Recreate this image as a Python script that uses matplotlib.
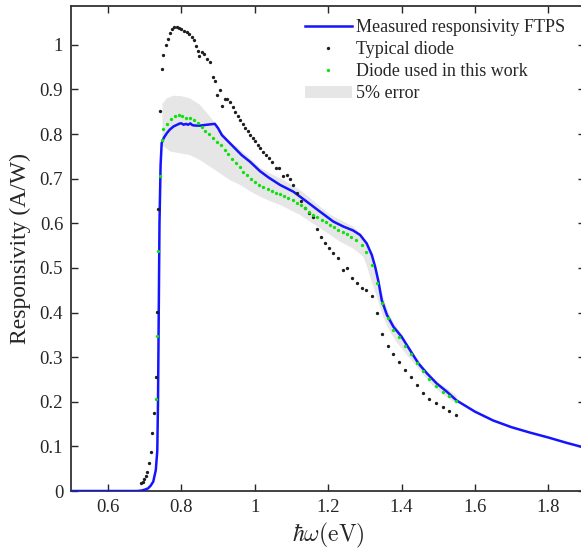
import numpy as np
import matplotlib
matplotlib.use('Agg')
import matplotlib.pyplot as plt

plt.rcParams['font.family'] = ['Liberation Serif', 'DejaVu Serif']
plt.rcParams['mathtext.fontset'] = 'cm'
plt.rcParams['font.size'] = 13.5

# measured responsivity (FTPS), eV / A/W
ftps_e = [0.50, 0.60, 0.68, 0.691, 0.700, 0.709, 0.716, 0.723, 0.730, 0.734,
          0.736, 0.738, 0.740, 0.743, 0.746, 0.752, 0.760, 0.768, 0.778, 0.788,
          0.796, 0.800, 0.806, 0.812, 0.818, 0.824, 0.830, 0.840, 0.850, 0.860,
          0.869, 0.880, 0.891, 0.900, 0.910, 0.928, 0.946, 0.964, 0.987, 1.014,
          1.037, 1.069, 1.105, 1.141, 1.178, 1.214, 1.241, 1.268, 1.287, 1.305,
          1.319, 1.328, 1.337, 1.346, 1.360, 1.378, 1.400, 1.423, 1.446, 1.469,
          1.496, 1.523, 1.550, 1.60, 1.65, 1.70, 1.75, 1.80, 1.85, 1.90]
ftps_r = [0, 0, 0, 0.001, 0.003, 0.006, 0.012, 0.021, 0.047, 0.09,
          0.2, 0.4, 0.6, 0.73, 0.78, 0.792, 0.802, 0.810, 0.817, 0.821,
          0.824, 0.824, 0.821, 0.823, 0.821, 0.824, 0.820, 0.819, 0.819, 0.820,
          0.821, 0.822, 0.823, 0.813, 0.798, 0.783, 0.768, 0.753, 0.738, 0.717,
          0.703, 0.686, 0.671, 0.649, 0.626, 0.604, 0.593, 0.584, 0.574, 0.555,
          0.529, 0.503, 0.470, 0.428, 0.395, 0.368, 0.346, 0.316, 0.286, 0.264,
          0.241, 0.223, 0.203, 0.178, 0.158, 0.143, 0.131, 0.120, 0.108, 0.097]

# typical diode
typ_e = [0.690, 0.694, 0.699, 0.703, 0.707, 0.712, 0.716, 0.720, 0.725, 0.730,
         0.732, 0.737, 0.741, 0.746, 0.750, 0.758, 0.762, 0.769, 0.775, 0.780,
         0.787, 0.793, 0.800, 0.808, 0.814, 0.821, 0.828, 0.834, 0.840, 0.846,
         0.849, 0.855, 0.861, 0.869, 0.878, 0.885, 0.891, 0.898, 0.905, 0.911,
         0.919, 0.925, 0.932, 0.940, 0.946, 0.953, 0.960, 0.967, 0.973, 0.981,
         0.987, 0.994, 1.000, 1.008, 1.014, 1.023, 1.030, 1.039, 1.046, 1.058,
         1.067, 1.078, 1.087, 1.096, 1.105, 1.116, 1.125, 1.137, 1.148, 1.158,
         1.170, 1.180, 1.191, 1.203, 1.214, 1.226, 1.240, 1.251, 1.264, 1.278,
         1.291, 1.304, 1.319, 1.332, 1.347, 1.362, 1.378, 1.393, 1.409, 1.425,
         1.441, 1.458, 1.476, 1.494, 1.512, 1.530, 1.549]
typ_r = [0.019, 0.021, 0.026, 0.034, 0.043, 0.062, 0.087, 0.129, 0.174, 0.256,
         0.402, 0.632, 0.852, 0.945, 0.978, 1.000, 1.013, 1.026, 1.036, 1.040,
         1.040, 1.037, 1.035, 1.031, 1.028, 1.024, 1.017, 1.010, 0.998, 0.987,
         0.974, 0.983, 0.980, 0.968, 0.961, 0.929, 0.918, 0.888, 0.898, 0.863,
         0.879, 0.879, 0.871, 0.860, 0.850, 0.841, 0.832, 0.823, 0.813, 0.806,
         0.798, 0.791, 0.785, 0.776, 0.768, 0.761, 0.753, 0.746, 0.738, 0.724,
         0.724, 0.705, 0.708, 0.699, 0.686, 0.669, 0.651, 0.634, 0.623, 0.614,
         0.587, 0.569, 0.555, 0.544, 0.534, 0.522, 0.496, 0.500, 0.477, 0.466,
         0.456, 0.450, 0.437, 0.398, 0.351, 0.325, 0.307, 0.290, 0.271, 0.256,
         0.238, 0.219, 0.206, 0.197, 0.189, 0.180, 0.170]

# diode used in this work
used_e = [0.730, 0.732, 0.737, 0.741, 0.746, 0.750, 0.760, 0.771, 0.781, 0.792,
          0.802, 0.813, 0.823, 0.834, 0.844, 0.855, 0.865, 0.876, 0.886, 0.897,
          0.907, 0.918, 0.928, 0.939, 0.949, 0.960, 0.969, 0.978, 0.990, 1.000,
          1.012, 1.023, 1.035, 1.046, 1.058, 1.069, 1.080, 1.091, 1.103, 1.114,
          1.126, 1.137, 1.148, 1.159, 1.170, 1.182, 1.194, 1.205, 1.217, 1.228,
          1.240, 1.250, 1.262, 1.276, 1.291, 1.303, 1.319, 1.332, 1.348, 1.362,
          1.378, 1.393, 1.409, 1.425, 1.441, 1.458, 1.476, 1.494, 1.512, 1.530,
          1.549]
used_r = [0.206, 0.348, 0.537, 0.706, 0.787, 0.811, 0.822, 0.834, 0.841, 0.843,
          0.840, 0.837, 0.836, 0.831, 0.824, 0.816, 0.808, 0.800, 0.792, 0.783,
          0.775, 0.765, 0.755, 0.745, 0.736, 0.726, 0.716, 0.709, 0.699, 0.692,
          0.686, 0.682, 0.677, 0.673, 0.669, 0.665, 0.661, 0.656, 0.652, 0.646,
          0.641, 0.634, 0.626, 0.619, 0.614, 0.608, 0.602, 0.596, 0.591, 0.585,
          0.580, 0.576, 0.570, 0.563, 0.552, 0.535, 0.507, 0.466, 0.422, 0.387,
          0.362, 0.345, 0.325, 0.307, 0.288, 0.268, 0.250, 0.235, 0.223, 0.213,
          0.202]

# 5% error band edges
band_up_e = [0.748, 0.760, 0.778, 0.800, 0.823, 0.850, 0.878, 0.905, 0.932, 0.960,
             0.987, 1.014, 1.041, 1.069, 1.096, 1.123, 1.150, 1.178, 1.205, 1.232,
             1.268, 1.296, 1.314, 1.328, 1.345, 1.362, 1.380, 1.40, 1.42, 1.44,
             1.46, 1.48, 1.50, 1.52, 1.54, 1.55]
band_up_r = [0.868, 0.880, 0.886, 0.885, 0.880, 0.866, 0.839, 0.809, 0.783, 0.765,
             0.746, 0.725, 0.712, 0.701, 0.688, 0.675, 0.657, 0.637, 0.620, 0.608,
             0.593, 0.570, 0.540, 0.503, 0.450, 0.405, 0.375, 0.352, 0.325, 0.300,
             0.278, 0.258, 0.243, 0.232, 0.220, 0.214]
band_lo_e = [0.748, 0.769, 0.796, 0.823, 0.850, 0.878, 0.905, 0.932, 0.960, 0.987,
             1.014, 1.041, 1.069, 1.096, 1.123, 1.150, 1.178, 1.205, 1.232, 1.268,
             1.296, 1.309, 1.32, 1.335, 1.35, 1.37, 1.39, 1.41, 1.43, 1.45,
             1.47, 1.49, 1.51, 1.53, 1.55]
band_lo_r = [0.775, 0.761, 0.757, 0.753, 0.742, 0.727, 0.712, 0.697, 0.686, 0.672,
             0.660, 0.650, 0.641, 0.630, 0.619, 0.604, 0.589, 0.574, 0.559, 0.544,
             0.525, 0.496, 0.465, 0.43, 0.39, 0.355, 0.33, 0.31, 0.29, 0.27,
             0.25, 0.232, 0.218, 0.206, 0.196]

txt = '#262626'

fig = plt.figure(figsize=(5.81, 5.52), dpi=100)
ax = fig.add_axes([0.123, 0.1105, 0.8837, 0.8785])

ax.fill(band_up_e + band_lo_e[::-1], band_up_r + band_lo_r[::-1],
        color='#e6e6e6', lw=0, label='5% error', zorder=1)
ax.plot(ftps_e, ftps_r, color='#1414ff', lw=1.8, label='Measured responsivity FTPS', zorder=3)
ax.plot(typ_e, typ_r, ls='none', marker='o', ms=2.4, color='#1e1e1e', mew=0,
        label='Typical diode', zorder=4)
ax.plot(used_e, used_r, ls='none', marker='o', ms=2.4, color='#10e010', mew=0,
        label='Diode used in this work', zorder=4)

ax.set_xlim(0.5, 1.9)
ax.set_ylim(0, 1.087)
ax.set_xticks([0.6, 0.8, 1.0, 1.2, 1.4, 1.6, 1.8])
ax.set_xticklabels(['0.6', '0.8', '1', '1.2', '1.4', '1.6', '1.8'])
ax.set_yticks(np.arange(0, 1.01, 0.1))
ax.set_yticklabels(['0'] + ['%.1f' % v for v in np.arange(0.1, 0.95, 0.1)] + ['1'])
ax.tick_params(direction='in', top=True, right=True, length=5, width=1,
               colors=txt, labelsize=13.5, pad=6)
for s in ax.spines.values():
    s.set_linewidth(1.3)
    s.set_color('#333333')

ax.set_xlabel(r'$\hbar\omega\mathrm{(eV)}$', fontsize=17, color=txt, labelpad=3)
ax.set_ylabel('Responsivity (A/W)', fontsize=17, color=txt, labelpad=6)

h, l = ax.get_legend_handles_labels()
order = [1, 2, 3, 0]
leg = ax.legend([h[i] for i in order], [l[i] for i in order], frameon=False,
                loc='upper left', bbox_to_anchor=(305 / 581, 1 - 19 / 552),
                bbox_transform=fig.transFigure, borderpad=0, borderaxespad=0,
                handlelength=2.6, handletextpad=0.2, labelspacing=0.28,
                fontsize=13, markerscale=1.0)
for t in leg.get_texts():
    t.set_color(txt)

fig.savefig('out.png', dpi=100)
